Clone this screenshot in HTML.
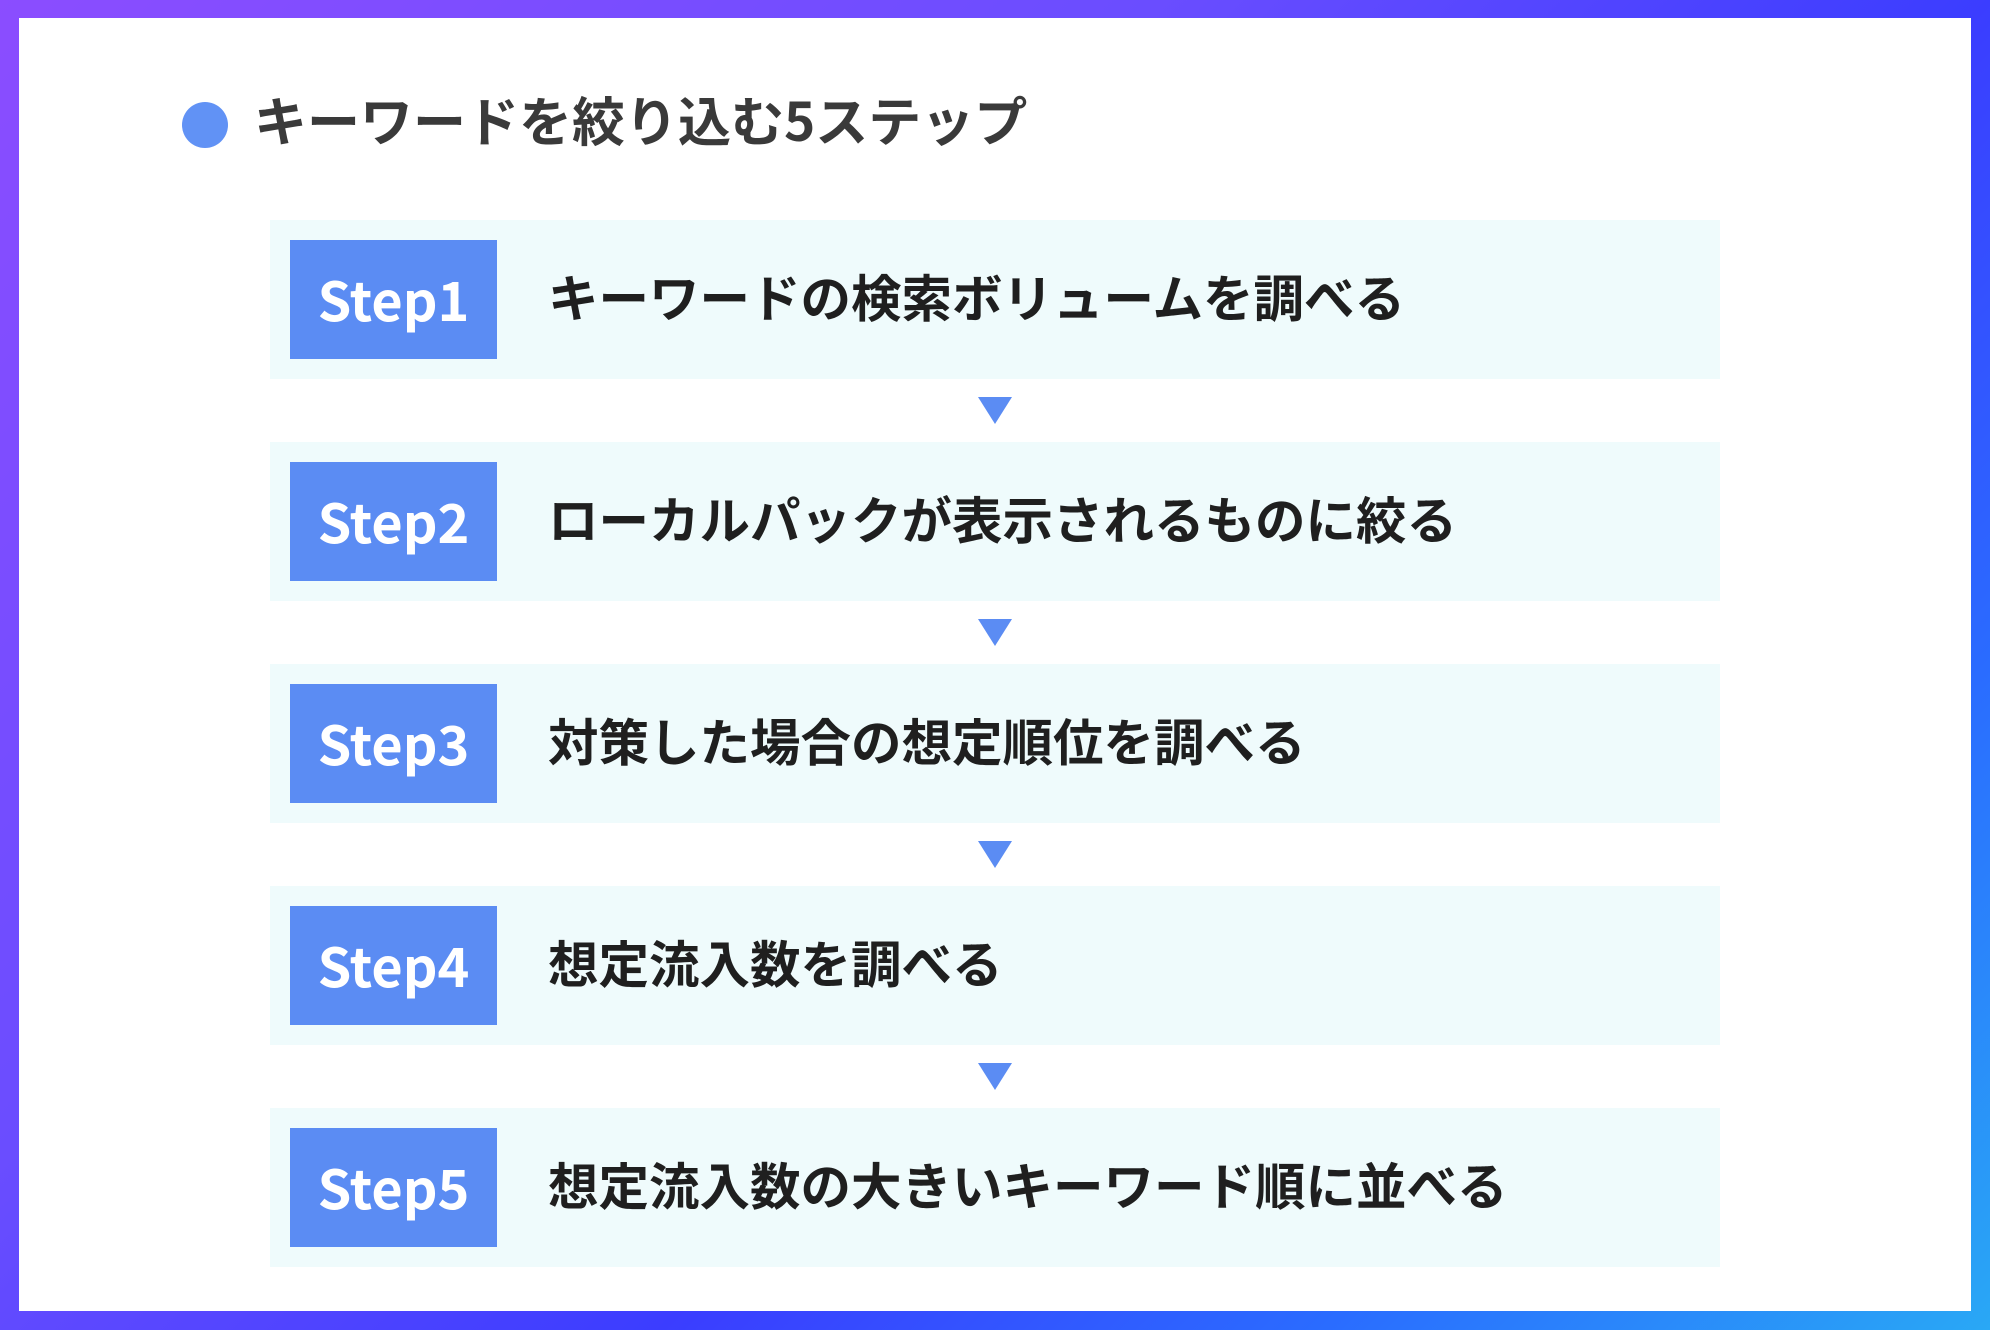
<!DOCTYPE html>
<html><head><meta charset="utf-8"><style>
html,body{margin:0;padding:0;}
body{width:1990px;height:1330px;position:relative;overflow:hidden;
background:linear-gradient(135deg,#8b4dff 0%,#6a4dff 35%,#3b3dff 60%,#2a6cff 80%,#29a8f5 100%);
font-family:"Noto Sans CJK JP","Liberation Sans",sans-serif;}
.inner{position:absolute;left:19px;top:18px;width:1952px;height:1293px;background:#fff;}
.dot{position:absolute;left:182px;top:102px;width:46px;height:46px;border-radius:50%;background:#6192f5;}
.title{position:absolute;left:254px;top:84px;font-size:53px;font-weight:700;color:#3a3a3a;line-height:70px;white-space:nowrap;}
.row{position:absolute;left:270px;width:1450px;height:159px;background:#effbfc;}
.lab{position:absolute;left:20px;top:20px;width:207px;height:119px;background:#5b8cf3;color:#fff;font-weight:700;font-size:54px;line-height:115px;text-align:center;}
.txt{position:absolute;left:278px;top:-4px;line-height:159px;font-size:50.5px;font-weight:700;color:#1f1f1f;white-space:nowrap;}
.arr{position:absolute;left:978px;width:0;height:0;border-left:17px solid transparent;border-right:17px solid transparent;border-top:27px solid #5b8cf3;}
</style></head><body>
<div class="inner"></div>
<div class="dot"></div>
<div class="title">キーワードを絞り込む5ステップ</div>
<div class="row" style="top:220px"><div class="lab">Step1</div><div class="txt">キーワードの検索ボリュームを調べる</div></div>
<div class="arr" style="top:397px"></div>
<div class="row" style="top:442px"><div class="lab">Step2</div><div class="txt">ローカルパックが表示されるものに絞る</div></div>
<div class="arr" style="top:619px"></div>
<div class="row" style="top:664px"><div class="lab">Step3</div><div class="txt">対策した場合の想定順位を調べる</div></div>
<div class="arr" style="top:841px"></div>
<div class="row" style="top:886px"><div class="lab">Step4</div><div class="txt">想定流入数を調べる</div></div>
<div class="arr" style="top:1063px"></div>
<div class="row" style="top:1108px"><div class="lab">Step5</div><div class="txt">想定流入数の大きいキーワード順に並べる</div></div>
</body></html>
